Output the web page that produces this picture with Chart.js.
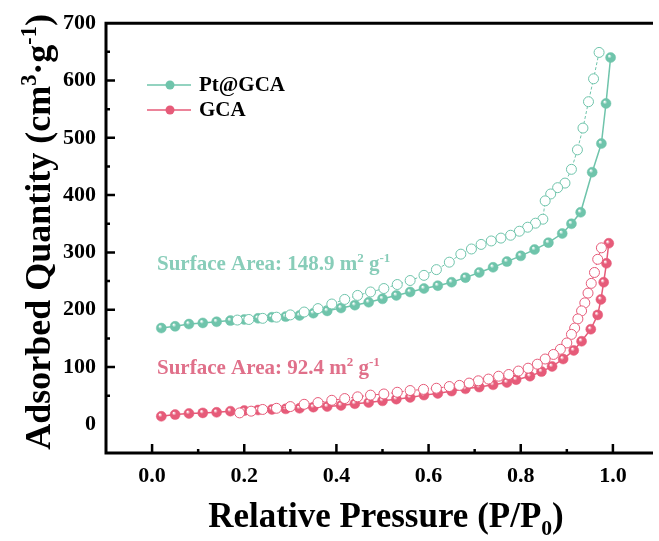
<!DOCTYPE html>
<html>
<head>
<meta charset="utf-8">
<script src="https://cdn.jsdelivr.net/npm/chart.js@4.4.1/dist/chart.umd.min.js"></script>
<style>
  html, body { margin: 0; padding: 0; background: #fff; }
  #isotherm { display: block; }
</style>
</head>
<body>
<canvas id="isotherm" width="659" height="541"></canvas>
<script>
// axis ticks
const xTicks = [0, 0.2, 0.4, 0.6, 0.8, 1.0];
const yTicks = [0, 100, 200, 300, 400, 500, 600, 700];

// Pt@GCA - adsorption (filled) / desorption (open)
const ptAdsP = [0.02, 0.05, 0.08, 0.11, 0.14, 0.17, 0.20, 0.23, 0.26, 0.29, 0.32, 0.35, 0.38, 0.41, 0.44, 0.47, 0.50, 0.53, 0.56, 0.59, 0.62, 0.65, 0.68, 0.71, 0.74, 0.77, 0.80, 0.83, 0.86, 0.89, 0.91, 0.93, 0.955, 0.975, 0.985, 0.995];
const ptAdsQ = [168, 171, 175, 177, 179, 181, 183, 185, 187, 188, 190, 194, 198, 203, 208, 213, 219, 225, 231, 237, 242, 248, 256, 265, 274, 284, 294, 305, 317, 333, 350, 370, 440, 490, 560, 640];
const ptDesP = [0.97, 0.958, 0.947, 0.935, 0.923, 0.91, 0.896, 0.88, 0.865, 0.853, 0.848, 0.832, 0.815, 0.797, 0.778, 0.757, 0.736, 0.714, 0.693, 0.67, 0.645, 0.617, 0.59, 0.56, 0.532, 0.503, 0.474, 0.446, 0.418, 0.39, 0.36, 0.33, 0.30, 0.27, 0.24, 0.21, 0.185];
const ptDesQ = [649, 603, 563, 517, 479, 445, 421, 413, 402, 390, 358, 351, 344, 337, 330, 325, 320, 314, 306, 297, 283, 270, 260, 251, 244, 237, 231, 225, 218, 210, 202, 196, 191, 187, 185, 183, 182];

// GCA - adsorption (filled) / desorption (open)
const gcaAdsP = [0.02, 0.05, 0.08, 0.11, 0.14, 0.17, 0.20, 0.23, 0.26, 0.29, 0.32, 0.35, 0.38, 0.41, 0.44, 0.47, 0.50, 0.53, 0.56, 0.59, 0.62, 0.65, 0.68, 0.71, 0.74, 0.77, 0.79, 0.82, 0.845, 0.868, 0.892, 0.915, 0.932, 0.952, 0.967, 0.974, 0.98, 0.986, 0.991];
const gcaAdsQ = [14, 17, 19, 20, 21, 23, 24, 25, 26, 27, 28, 30, 31, 33, 36, 38, 41, 44, 47, 51, 54, 58, 62, 65, 69, 73, 78, 84, 92, 101, 114, 129, 145, 166, 191, 218, 248, 281, 316];
const gcaDesP = [0.975, 0.967, 0.96, 0.953, 0.946, 0.939, 0.932, 0.924, 0.917, 0.91, 0.9, 0.886, 0.871, 0.853, 0.836, 0.816, 0.795, 0.774, 0.752, 0.73, 0.708, 0.688, 0.667, 0.645, 0.617, 0.589, 0.56, 0.532, 0.503, 0.474, 0.446, 0.418, 0.39, 0.36, 0.33, 0.30, 0.27, 0.24, 0.215, 0.19];
const gcaDesQ = [308, 288, 265, 246, 229, 212, 198, 184, 168, 157, 142, 131, 122, 114, 105, 98, 93, 87, 84, 79, 76, 72, 68, 66, 63, 61, 59, 56, 53, 51, 48, 45, 42, 38, 35, 31, 28, 26, 23, 20];

const teal = '#6fc4ab';
const tealText = '#88cdb9';
const pink = '#e65b79';
const pinkText = '#e0708a';
const serif = '"Liberation Serif", "Times New Roman", serif';

function pts(xs, ys) {
  return xs.map((x, i) => ({ x: x, y: ys[i] }));
}

// little shaded ball like the original markers
function ball(color) {
  return function (ctx) {
    const chart = ctx.chart;
    if (!chart.scales.x || ctx.parsed === undefined) return color;
    const px = chart.scales.x.getPixelForValue(ctx.parsed.x);
    const py = chart.scales.y.getPixelForValue(ctx.parsed.y);
    if (!isFinite(px) || !isFinite(py)) return color;
    const g = chart.ctx.createRadialGradient(px - 1.5, py - 1.8, 0.3, px, py, 5.5);
    g.addColorStop(0, '#ffffff');
    g.addColorStop(0.35, color);
    g.addColorStop(1, color);
    return g;
  };
}

// text with super/subscripts, parts = [[text, 'sup'|'sub'|''], ...]
function richWidth(ctx, parts, size) {
  let w = 0;
  parts.forEach(p => {
    const s = p[1] ? size * 0.62 : size;
    ctx.font = 'bold ' + s + 'px ' + serif;
    w += ctx.measureText(p[0]).width;
  });
  return w;
}
function drawRich(ctx, parts, x, y, size, color) {
  ctx.fillStyle = color;
  ctx.textBaseline = 'alphabetic';
  ctx.textAlign = 'left';
  let cx = x;
  parts.forEach(p => {
    const s = p[1] ? size * 0.62 : size;
    ctx.font = 'bold ' + s + 'px ' + serif;
    let dy = 0;
    if (p[1] === 'sup') dy = -size * 0.38;
    if (p[1] === 'sub') dy = size * 0.22;
    ctx.fillText(p[0], cx, y + dy);
    cx += ctx.measureText(p[0]).width;
  });
}

const framePlugin = {
  id: 'frame',
  beforeDatasetsDraw(chart) {
    const { ctx, chartArea: a, scales: { x, y } } = chart;
    ctx.save();
    ctx.strokeStyle = '#000';
    ctx.lineWidth = 3;
    ctx.beginPath();
    ctx.moveTo(a.left, a.bottom);
    ctx.lineTo(a.left, a.top);
    ctx.lineTo(a.right, a.top);
    ctx.moveTo(a.left - 1.5, a.bottom);
    ctx.lineTo(a.right, a.bottom);
    ctx.stroke();
    ctx.lineWidth = 2.5;
    ctx.beginPath();
    for (let v = 0; v <= 1.0001; v += 0.1) {
      const px = x.getPixelForValue(v);
      const major = Math.abs(v * 5 - Math.round(v * 5)) < 1e-6;
      ctx.moveTo(px, a.bottom);
      ctx.lineTo(px, a.bottom - (major ? 9 : 4));
    }
    for (let v = 50; v <= 650; v += 50) {
      const py = y.getPixelForValue(v);
      const major = v % 100 === 0;
      ctx.moveTo(a.left, py);
      ctx.lineTo(a.left + (major ? 9 : 4), py);
    }
    ctx.stroke();
    ctx.restore();
  },
  afterDraw(chart) {
    const ctx = chart.ctx;
    ctx.save();
    // axis titles
    const yParts = [['Adsorbed Quantity (cm', ''], ['3', 'sup'], ['\u00b7g', ''], ['-1', 'sup'], [')', '']];
    const ySize = 36;
    const yw = richWidth(ctx, yParts, ySize);
    ctx.save();
    ctx.translate(50, 232);
    ctx.rotate(-Math.PI / 2);
    drawRich(ctx, yParts, -yw / 2, 0, ySize, '#000');
    ctx.restore();

    const xParts = [['Relative Pressure (P/P', ''], ['0', 'sub'], [')', '']];
    const xSize = 35;
    const xw = richWidth(ctx, xParts, xSize);
    drawRich(ctx, xParts, 386 - xw / 2, 527, xSize, '#000');

    // surface area notes
    drawRich(ctx, [['Surface Area: 148.9 m', ''], ['2', 'sup'], [' g', ''], ['-1', 'sup']], 157, 270, 21, tealText);
    drawRich(ctx, [['Surface Area: 92.4 m', ''], ['2', 'sup'], [' g', ''], ['-1', 'sup']], 157, 374, 21, pinkText);

    // legend
    const items = [['Pt@GCA', teal, 85], ['GCA', pink, 110]];
    items.forEach(it => {
      ctx.strokeStyle = it[1];
      ctx.lineWidth = 1.5;
      ctx.beginPath();
      ctx.moveTo(147, it[2]);
      ctx.lineTo(191, it[2]);
      ctx.stroke();
      ctx.fillStyle = it[1];
      ctx.beginPath();
      ctx.arc(170, it[2], 4.5, 0, Math.PI * 2);
      ctx.fill();
      ctx.fillStyle = '#000';
      ctx.font = 'bold 21px ' + serif;
      ctx.textAlign = 'left';
      ctx.textBaseline = 'middle';
      ctx.fillText(it[0], 199, it[2] + 1);
    });
    ctx.restore();
  }
};

const openStyle = (c) => ({
  showLine: true,
  borderColor: c,
  borderWidth: 1,
  borderDash: [3, 2],
  pointRadius: 5,
  pointBackgroundColor: '#ffffff',
  pointBorderColor: c,
  pointBorderWidth: 1,
  order: 0
});
const filledStyle = (c) => ({
  showLine: true,
  borderColor: c,
  borderWidth: 1.5,
  pointRadius: 5,
  pointBackgroundColor: ball(c),
  pointBorderColor: c,
  pointBorderWidth: 0.5,
  order: 1
});

new Chart(document.getElementById('isotherm'), {
  type: 'scatter',
  data: {
    datasets: [
      Object.assign({ label: 'Pt@GCA desorption', data: pts(ptDesP, ptDesQ) }, openStyle(teal)),
      Object.assign({ label: 'GCA desorption', data: pts(gcaDesP, gcaDesQ) }, openStyle(pink)),
      Object.assign({ label: 'Pt@GCA', data: pts(ptAdsP, ptAdsQ) }, filledStyle(teal)),
      Object.assign({ label: 'GCA', data: pts(gcaAdsP, gcaAdsQ) }, filledStyle(pink))
    ]
  },
  options: {
    responsive: false,
    animation: false,
    layout: { padding: { top: 23, right: 0, left: 0, bottom: 0 } },
    plugins: {
      legend: { display: false },
      tooltip: { enabled: false }
    },
    scales: {
      x: {
        type: 'linear',
        min: -0.1,
        max: 1.087,
        afterBuildTicks: (s) => { s.ticks = xTicks.map(v => ({ value: v })); },
        afterFit: (s) => { s.height = 88; },
        grid: { display: false, drawTicks: false },
        border: { display: false },
        ticks: {
          padding: 10,
          color: '#000',
          font: { family: serif, weight: 'bold', size: 22 },
          callback: (v) => Number(v).toFixed(1)
        }
      },
      y: {
        min: -50,
        max: 700,
        afterBuildTicks: (s) => { s.ticks = yTicks.map(v => ({ value: v })); },
        afterFit: (s) => { s.width = 106; },
        grid: { display: false, drawTicks: false },
        border: { display: false },
        ticks: {
          padding: 10,
          color: '#000',
          font: { family: serif, weight: 'bold', size: 22 }
        }
      }
    }
  },
  plugins: [framePlugin]
});
</script>
</body>
</html>
